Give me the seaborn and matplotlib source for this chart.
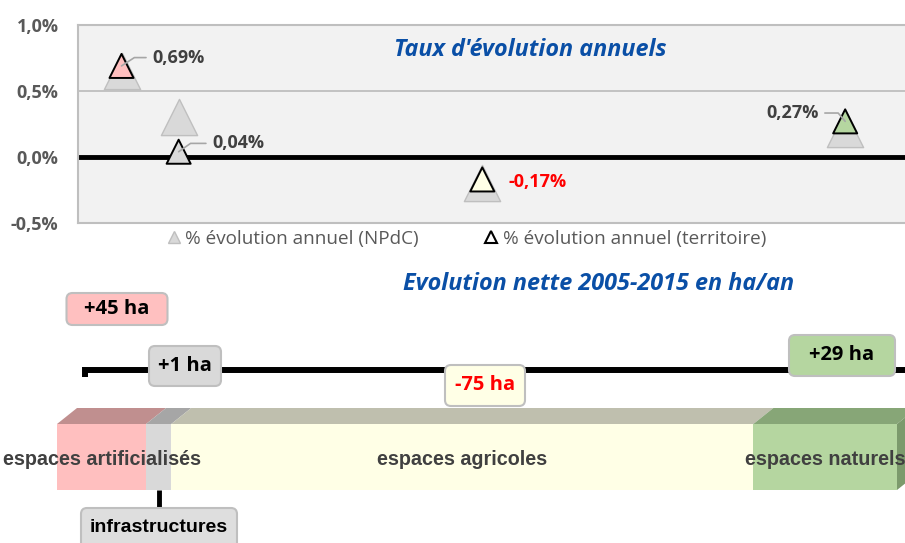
import numpy as np
import matplotlib
matplotlib.use("Agg")
import matplotlib.pyplot as plt
from matplotlib.lines import Line2D
from matplotlib.patches import Polygon, FancyBboxPatch
import seaborn as sns

# data
categories = ["espaces artificialisés", "infrastructures", "espaces agricoles", "espaces naturels"]
surface_share = [10.6, 3.0, 69.3, 17.1]        # part du territoire (%), largeur des barres
rate_territoire = [0.69, 0.04, -0.17, 0.27]    # % évolution annuel (territoire)
rate_npdc = [0.65, 0.30, -0.20, 0.21]          # % évolution annuel (NPdC)
net_ha = [45, 1, -75, 29]                      # évolution nette 2005-2015 en ha/an
yticks = [-0.5, 0.0, 0.5, 1.0]

front = ["#ffbfbf", "#d9d9d9", "#ffffe6", "#b5d6a0"]
topface = ["#c08f8f", "#a6a6a6", "#bfbfae", "#87a677"]
box_fc = ["#ffc0c0", "#d9d9d9", "#ffffe6", "#b5d6a0"]

sns.set_theme(style="white")
plt.rcParams["font.family"] = ["Open Sans", "DejaVu Sans"]
arial = ["Liberation Sans", "DejaVu Sans"]

W, H = 905, 543
PX = 8.4                 # pixels per % of surface
DX, DY = 20, 16          # 3d depth in pixels

fig = plt.figure(figsize=(W / 100, H / 100), dpi=100)

share = np.array(surface_share)
left = np.concatenate([[0], np.cumsum(share)[:-1]])
mid = left + share / 2

# ---- bottom: 3d stacked bar
ax2 = fig.add_axes([57 / W, 1 - 490 / H, 840 / W, 66 / H])
ax2.barh(0, share, left=left, height=1, color=front, linewidth=0)
ax2.set_xlim(0, 100)
ax2.set_ylim(-0.5, 0.5)
ax2.axis("off")
dx, dy = DX / PX, DY / 66
for l, w, c in zip(left, share, topface):
    ax2.add_patch(Polygon([(l, 0.5), (l + w, 0.5), (l + w + dx, 0.5 + dy), (l + dx, 0.5 + dy)],
                          closed=True, fc=c, ec="none", clip_on=False))
R = left[-1] + share[-1]
ax2.add_patch(Polygon([(R, -0.5), (R, 0.5), (R + dx, 0.5 + dy), (R + dx, -0.5 + dy)],
                      closed=True, fc="#7c9a6c", ec="none", clip_on=False))
for i in [0, 2, 3]:
    ax2.text(mid[i], -0.04, categories[i], ha="center", va="center", fontsize=14.2,
             fontweight="bold", color="#404040", family=arial, clip_on=False)

# ---- top: scatter of annual rates
ax1 = fig.add_axes([78 / W, 1 - 223 / H, 828 / W, 198 / H], facecolor="#f2f2f2")
ax1.axhline(0.5, color="#bfbfbf", lw=1.3, zorder=1)
ax1.axhline(0, color="black", lw=3.5, zorder=2)
sns.scatterplot(x=mid, y=rate_npdc, marker="^", s=680, color="#d9d9d9",
                edgecolor="#bfbfbf", linewidth=1, ax=ax1, zorder=3, legend=False)
sns.scatterplot(x=mid, y=rate_territoire, hue=categories, palette=front, marker="^", s=300,
                edgecolor="black", linewidth=1.4, ax=ax1, zorder=4, legend=False)
ax1.set_xlim(1 / PX, 1 / PX + 828 / PX)
ax1.set_ylim(-0.5, 1.0)
ax1.set_xticks([])
ax1.set_yticks(yticks)
ax1.set_yticklabels([f"{t:.1f}%".replace(".", ",") for t in yticks],
                    fontweight="bold", color="#595959", fontsize=13)
ax1.tick_params(axis="y", length=0, pad=14)
ax1.set_xlabel("")
ax1.set_ylabel("")
for s in ["top", "bottom", "left"]:
    ax1.spines[s].set_color("#bfbfbf")
    ax1.spines[s].set_linewidth(1.5)
ax1.spines["right"].set_visible(False)

offsets = [(22, 6), (24, 6), (19, -1.5), (-19, 6)]
angles = [33, 35, None, -50]
for i, v in enumerate(rate_territoire):
    txt = f"{v:.2f}%".replace(".", ",")
    col = "#ff0000" if v < 0 else "#404040"
    ha = "right" if offsets[i][0] < 0 else "left"
    arrow = None
    if angles[i] is not None:
        arrow = dict(arrowstyle="-", color="#a6a6a6", lw=1.2, shrinkA=2, shrinkB=0,
                     relpos=(1, 0.5) if ha == "right" else (0, 0.5),
                     connectionstyle=f"angle,angleA=0,angleB={angles[i]},rad=0")
    ax1.annotate(txt, xy=(mid[i], v), xytext=offsets[i], textcoords="offset points",
                 ha=ha, va="center", fontsize=13, fontweight="bold", color=col,
                 arrowprops=arrow, zorder=5)

handles = [Line2D([], [], marker="^", ls="none", markersize=9, mfc="#d9d9d9", mec="#bfbfbf"),
           Line2D([], [], marker="^", ls="none", markersize=9, mfc="white", mec="black", mew=1.5)]
fig.legend(handles, ["% évolution annuel (NPdC)", "% évolution annuel (territoire)"],
           loc="center left", bbox_to_anchor=(166 / W, 1 - 239 / H), ncol=2, frameon=False,
           fontsize=13.6, handlelength=0.8, handletextpad=0.2, columnspacing=3.45,
           borderpad=0, borderaxespad=0, labelcolor="#595959")

# ---- overlay in pixel coordinates for titles and labels
lay = fig.add_axes([0, 0, 1, 1], zorder=10)
lay.set_xlim(0, W)
lay.set_ylim(H, 0)
lay.axis("off")
lay.patch.set_alpha(0)

blue = "#0a4fa6"
lay.text(530, 50, "Taux d'évolution annuels", ha="center", va="center", color=blue,
         fontsize=16.8, fontweight="bold", style="italic")
lay.text(599, 284, "Evolution nette 2005-2015 en ha/an", ha="center", va="center", color=blue,
         fontsize=16.8, fontweight="bold", style="italic")

lay.plot([85, 85, 910], [377, 370, 370], color="black", lw=4.3,
         solid_capstyle="butt", solid_joinstyle="miter", zorder=1)

box_x = [117, 185, 485, 842]
box_y = [309, 366, 385.5, 355.5]
box_w = [101, 72, 80, 106]
box_h = [32, 40, 41, 41]
for i, v in enumerate(net_ha):
    x, y, w, h = box_x[i], box_y[i], box_w[i], box_h[i]
    lay.add_patch(FancyBboxPatch((x - w / 2, y - h / 2), w, h,
                                 boxstyle="round,pad=0,rounding_size=6",
                                 fc=box_fc[i], ec="#bfbfbf", lw=1.5, zorder=2))
    lay.text(x, y, f"{v:+d} ha", ha="center", va="center", fontsize=14.5,
             fontweight="bold", color="#ff0000" if v < 0 else "black", zorder=3)

# infrastructures callout
xi = 57 + PX * mid[1]
lay.plot([xi, xi], [490, 508], color="black", lw=3.5, solid_capstyle="butt", zorder=1)
lay.add_patch(FancyBboxPatch((81, 508), 156, 44, boxstyle="round,pad=0,rounding_size=6",
                             fc="#dedede", ec="#bfbfbf", lw=1.5, zorder=2))
lay.text(159, 528, categories[1], ha="center", va="center", fontsize=14,
         fontweight="bold", color="black", family=arial, zorder=3)

fig.savefig("out.png", dpi=100)
